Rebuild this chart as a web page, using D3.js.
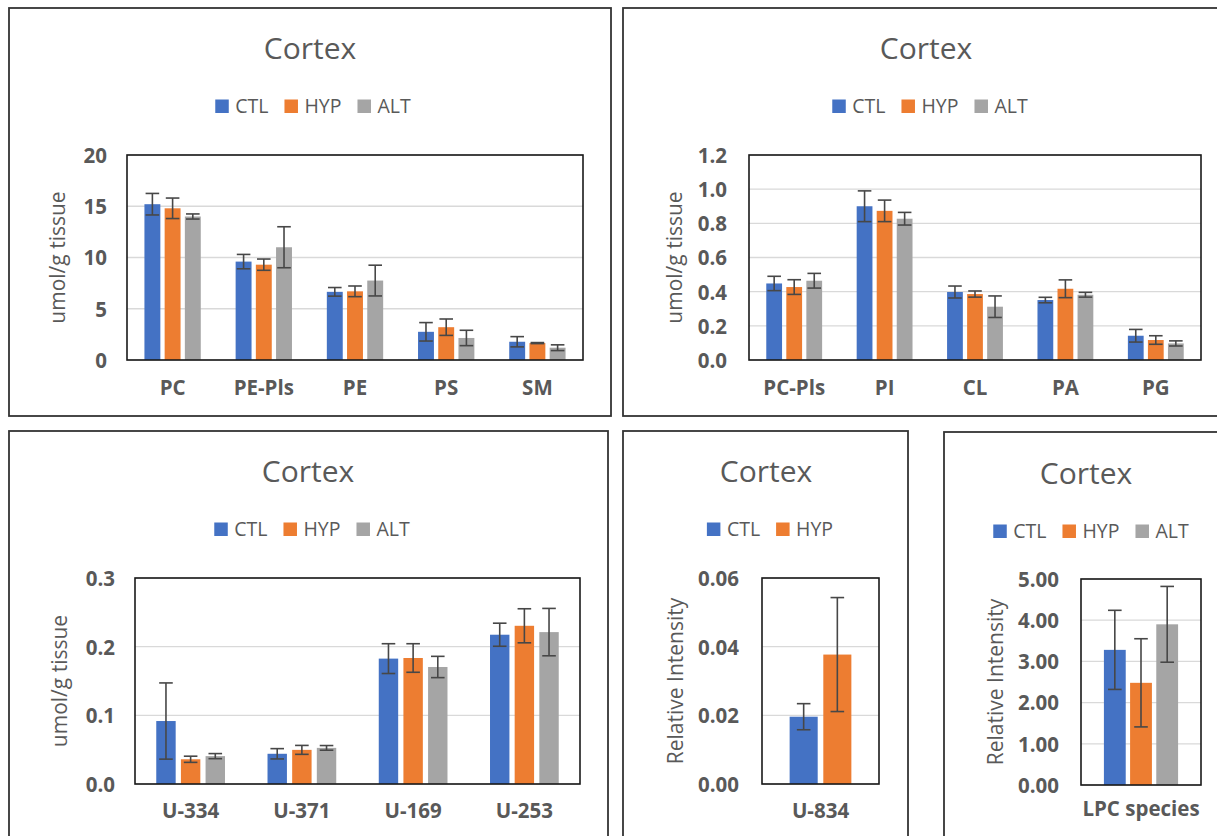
<!DOCTYPE html>
<html>
<head>
<meta charset="utf-8">
<script src="https://cdn.jsdelivr.net/npm/d3@7"></script>
<style>
  html, body { margin: 0; padding: 0; background: #fff; }
  svg { display: block; font-family: "Open Sans", "Noto Sans", sans-serif; }
</style>
</head>
<body>
<svg id="chart" width="1217" height="836"></svg>
<script>
// ---- data ----
const groups3 = ["CTL", "HYP", "ALT"];
const groups2 = ["CTL", "HYP"];

const majorCats = ["PC", "PE-Pls", "PE", "PS", "SM"];
const majorCTL = [15.2, 9.6, 6.65, 2.75, 1.78];
const majorHYP = [14.8, 9.3, 6.7, 3.2, 1.65];
const majorALT = [14.0, 11.0, 7.75, 2.15, 1.2];
const majorCTLErr = [1.05, 0.7, 0.42, 0.9, 0.5];
const majorHYPErr = [1.0, 0.55, 0.52, 0.8, 0.05];
const majorALTErr = [0.25, 2.0, 1.5, 0.75, 0.28];
const majorTicks = [0, 5, 10, 15, 20];

const minorCats = ["PC-Pls", "PI", "CL", "PA", "PG"];
const minorCTL = [0.448, 0.90, 0.398, 0.351, 0.142];
const minorHYP = [0.427, 0.873, 0.386, 0.417, 0.117];
const minorALT = [0.464, 0.827, 0.312, 0.382, 0.097];
const minorCTLErr = [0.042, 0.09, 0.035, 0.016, 0.037];
const minorHYPErr = [0.043, 0.063, 0.018, 0.052, 0.025];
const minorALTErr = [0.043, 0.037, 0.063, 0.014, 0.015];
const minorTicks = [0, 0.2, 0.4, 0.6, 0.8, 1.0, 1.2];

const unkCats = ["U-334", "U-371", "U-169", "U-253"];
const unkCTL = [0.0917, 0.044, 0.1826, 0.2174];
const unkHYP = [0.036, 0.0497, 0.1835, 0.2304];
const unkALT = [0.0406, 0.0526, 0.1704, 0.2212];
const unkCTLErr = [0.0555, 0.0075, 0.0217, 0.0168];
const unkHYPErr = [0.0045, 0.0065, 0.0208, 0.0248];
const unkALTErr = [0.0037, 0.0034, 0.0155, 0.0345];
const unkTicks = [0, 0.1, 0.2, 0.3];

const u834Cats = ["U-834"];
const u834CTL = [0.0196];
const u834HYP = [0.0377];
const u834CTLErr = [0.0038];
const u834HYPErr = [0.0166];
const u834Ticks = [0, 0.02, 0.04, 0.06];

const lpcCats = ["LPC species"];
const lpcCTL = [3.28];
const lpcHYP = [2.48];
const lpcALT = [3.90];
const lpcCTLErr = [0.96];
const lpcHYPErr = [1.07];
const lpcALTErr = [0.92];
const lpcTicks = [0, 1, 2, 3, 4, 5];

// ---- styling ----
const colors = { CTL: "#4472C4", HYP: "#ED7D31", ALT: "#A5A5A5" };
const textGray = "#595959";

const svg = d3.select("#chart");
svg.append("rect").attr("width", 1217).attr("height", 836).attr("fill", "#fff");

function drawPanel(cfg) {
  const g = svg.append("g");
  const p = cfg.plot;
  const n = cfg.groups.length;

  // panel frame
  g.append("rect")
    .attr("x", cfg.box[0]).attr("y", cfg.box[1])
    .attr("width", cfg.box[2] - cfg.box[0]).attr("height", cfg.box[3] - cfg.box[1])
    .attr("fill", "none").attr("stroke", "#333").attr("stroke-width", 1.8);

  // title
  g.append("text")
    .attr("x", cfg.titleX).attr("y", cfg.titleY)
    .attr("text-anchor", "middle")
    .attr("font-size", 30).attr("fill", textGray)
    .text("Cortex");

  // legend
  const leg = g.append("g");
  let cursor = 0;
  cfg.groups.forEach((name, i) => {
    const item = leg.append("g").attr("transform", `translate(${cursor},0)`);
    item.append("rect").attr("x", 0).attr("y", -13.5).attr("width", 13.5).attr("height", 13.5)
      .attr("fill", colors[name]);
    const t = item.append("text").attr("x", 20).attr("y", 0)
      .attr("font-size", 19.5).attr("fill", textGray).text(name);
    cursor += 20 + t.node().getComputedTextLength() + 16;
  });
  const legW = cursor - 16;
  leg.attr("transform", `translate(${cfg.legendX - legW / 2},${cfg.legendY})`);

  // scales
  const y = d3.scaleLinear().domain([0, cfg.yMax]).range([p.b, p.t]);
  const x = d3.scaleBand().domain(cfg.cats).range([p.l, p.r]).padding(0);
  const bw = x.bandwidth();
  const w = bw / (n + (n - 1) * cfg.overlap + cfg.gap);
  const groupW = n * w + (n - 1) * cfg.overlap * w;

  // gridlines
  g.append("g").selectAll("line").data(cfg.ticks).join("line")
    .attr("x1", p.l).attr("x2", p.r)
    .attr("y1", d => y(d)).attr("y2", d => y(d))
    .attr("stroke", "#d9d9d9").attr("stroke-width", 1.3);

  // bars and error bars
  const rows = [];
  cfg.cats.forEach((c, ci) => {
    cfg.groups.forEach((s, si) => {
      rows.push({
        cat: c, series: s,
        v: cfg.values[si][ci], e: cfg.errors[si][ci],
        x: x(c) + (bw - groupW) / 2 + si * w * (1 + cfg.overlap)
      });
    });
  });

  g.append("g").selectAll("rect").data(rows).join("rect")
    .attr("x", d => d.x).attr("width", w)
    .attr("y", d => y(d.v)).attr("height", d => y(0) - y(d.v))
    .attr("fill", d => colors[d.series]);

  const eb = g.append("g").attr("stroke", "#474747").attr("stroke-width", 1.6).attr("fill", "none");
  const cap = 6.8;
  rows.forEach(d => {
    const cx = d.x + w / 2;
    const y1 = y(d.v + d.e), y0 = y(d.v - d.e);
    eb.append("line").attr("x1", cx).attr("x2", cx).attr("y1", y1).attr("y2", y0);
    eb.append("line").attr("x1", cx - cap).attr("x2", cx + cap).attr("y1", y1).attr("y2", y1);
    eb.append("line").attr("x1", cx - cap).attr("x2", cx + cap).attr("y1", y0).attr("y2", y0);
  });

  // plot area frame
  g.append("rect")
    .attr("x", p.l).attr("y", p.t).attr("width", p.r - p.l).attr("height", p.b - p.t)
    .attr("fill", "none").attr("stroke", "#1a1a1a").attr("stroke-width", 1.6);

  // y axis
  const ya = g.append("g").attr("transform", `translate(${cfg.tickRight},0)`)
    .call(d3.axisLeft(y).tickValues(cfg.ticks).tickFormat(d3.format(cfg.fmt)).tickSize(0).tickPadding(0));
  ya.select(".domain").remove();
  ya.selectAll("text")
    .attr("font-family", "'Open Sans', sans-serif")
    .attr("font-size", 20.5).attr("font-weight", "bold").attr("fill", textGray)
    .attr("dy", "0.36em");

  // x axis
  const xa = g.append("g").attr("transform", `translate(0,${p.b})`)
    .call(d3.axisBottom(x).tickSize(0));
  xa.select(".domain").remove();
  xa.selectAll("text")
    .attr("font-family", "'Open Sans', sans-serif")
    .attr("font-size", 20.5).attr("font-weight", "bold").attr("fill", textGray)
    .attr("y", cfg.xLabelOffset).attr("dy", 0);

  // y axis title
  g.append("text")
    .attr("transform", `translate(${cfg.yTitleX},${(p.t + p.b) / 2}) rotate(-90)`)
    .attr("text-anchor", "middle").attr("dy", "0.35em")
    .attr("font-size", 21).attr("fill", textGray)
    .text(cfg.yTitle);
}

drawPanel({
  box: [9, 8, 611, 416],
  plot: { l: 127, t: 155, r: 583, b: 360 },
  titleX: 310, titleY: 59, legendX: 313, legendY: 113,
  groups: groups3, cats: majorCats,
  values: [majorCTL, majorHYP, majorALT],
  errors: [majorCTLErr, majorHYPErr, majorALTErr],
  yMax: 20, ticks: majorTicks, fmt: "d",
  gap: 2.19, overlap: 0.27,
  tickRight: 107, xLabelOffset: 35,
  yTitle: "umol/g tissue", yTitleX: 58
});

drawPanel({
  box: [623, 8, 1229, 416],
  plot: { l: 749, t: 155, r: 1201, b: 360 },
  titleX: 926, titleY: 59, legendX: 930, legendY: 113,
  groups: groups3, cats: minorCats,
  values: [minorCTL, minorHYP, minorALT],
  errors: [minorCTLErr, minorHYPErr, minorALTErr],
  yMax: 1.2, ticks: minorTicks, fmt: ".1f",
  gap: 2.19, overlap: 0.27,
  tickRight: 727, xLabelOffset: 35,
  yTitle: "umol/g tissue", yTitleX: 675
});

drawPanel({
  box: [9, 431, 608, 852],
  plot: { l: 135, t: 578, r: 580, b: 784 },
  titleX: 308, titleY: 482, legendX: 312, legendY: 536,
  groups: groups3, cats: unkCats,
  values: [unkCTL, unkHYP, unkALT],
  errors: [unkCTLErr, unkHYPErr, unkALTErr],
  yMax: 0.3, ticks: unkTicks, fmt: ".1f",
  gap: 2.19, overlap: 0.27,
  tickRight: 115, xLabelOffset: 34,
  yTitle: "umol/g tissue", yTitleX: 60
});

drawPanel({
  box: [623, 431, 908, 852],
  plot: { l: 762, t: 578, r: 879, b: 784 },
  titleX: 766, titleY: 482, legendX: 770, legendY: 536,
  groups: groups2, cats: u834Cats,
  values: [u834CTL, u834HYP],
  errors: [u834CTLErr, u834HYPErr],
  yMax: 0.06, ticks: u834Ticks, fmt: ".2f",
  gap: 1.97, overlap: 0.2,
  tickRight: 739, xLabelOffset: 34,
  yTitle: "Relative Intensity", yTitleX: 676
});

drawPanel({
  box: [944, 432, 1228, 852],
  plot: { l: 1081, t: 579, r: 1201, b: 785 },
  titleX: 1086, titleY: 484, legendX: 1091, legendY: 538,
  groups: groups3, cats: lpcCats,
  values: [lpcCTL, lpcHYP, lpcALT],
  errors: [lpcCTLErr, lpcHYPErr, lpcALTErr],
  yMax: 5, ticks: lpcTicks, fmt: ".2f",
  gap: 2.1, overlap: 0.2,
  tickRight: 1059, xLabelOffset: 31,
  yTitle: "Relative Intensity", yTitleX: 996
});
</script>
</body>
</html>
